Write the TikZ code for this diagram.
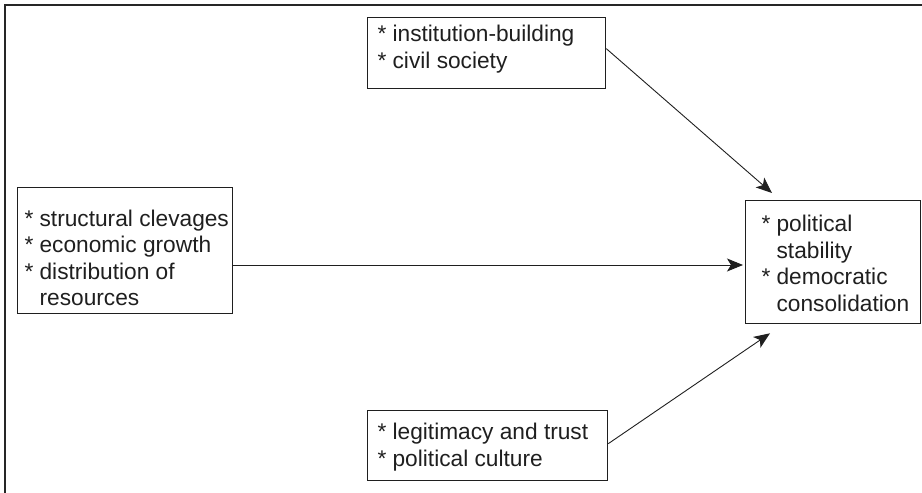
\documentclass[tikz,border=0pt]{standalone}
\usepackage{fontspec}
\setmainfont{Liberation Sans}
\usetikzlibrary{arrows.meta}
\begin{document}
\begin{tikzpicture}[x=1pt,y=1pt,
  box/.style={draw=black!88, line width=1.3pt, anchor=north west, inner sep=0pt},
  boxtext/.style={anchor=north west, inner sep=0pt, align=left, text=black!88,
    font=\fontsize{22.7}{26.5}\selectfont},
  link/.style={draw=black!88, line width=0.9pt,
    -{Stealth[length=16pt,width=13pt,inset=4pt]}},
  frameline/.style={draw=black!85, line width=1.3pt}]
\useasboundingbox (0,0) rectangle (922,493);

% open frame: top and left edges only
\draw[frameline] (5,0) -- (5,488) -- (922,488);

% boxes
\node[box, minimum width=238pt, minimum height=71pt] (inst) at (367,476) {};
\node[box, minimum width=215pt, minimum height=126pt] (struct) at (17,306) {};
\node[box, minimum width=175pt, minimum height=123pt] (outcome) at (745,293) {};
\node[box, minimum width=240pt, minimum height=70pt] (cult) at (367,83) {};

% box texts
\node[boxtext] (insttext) at (377.3,468)
  {* institution-building\\* civil society};
\node[boxtext] (structtext) at (24.3,283.5)
  {* structural clevages\\* economic growth\\* distribution of\\\hphantom{* }resources};
\node[boxtext] (outcometext) at (761.3,278)
  {* political\\\hphantom{* }stability\\* democratic\\\hphantom{* }consolidation};
\node[boxtext] (culttext) at (377.3,70)
  {* legitimacy and trust\\* political culture};

% connectors
\coordinate (midline) at (0,228);
\draw[link] ([yshift=4.5pt]inst.east) -- ([xshift=27pt,yshift=7pt]outcome.north west);
\draw[link] (struct.east |- midline) -- ([xshift=-2pt]outcome.west |- midline);
\draw[link] ([yshift=2pt]cult.east) -- ([xshift=25pt,yshift=-9pt]outcome.south west);
\end{tikzpicture}
\end{document}
